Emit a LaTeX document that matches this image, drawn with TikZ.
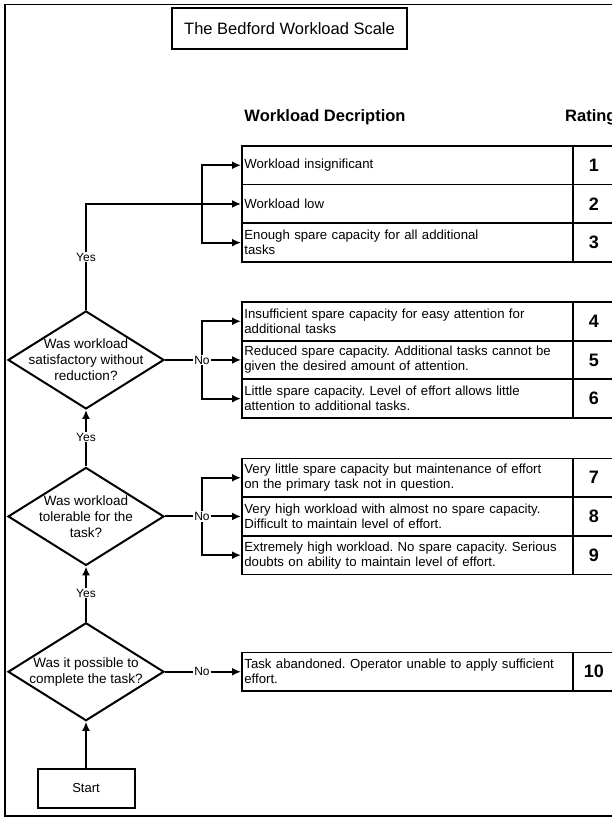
\documentclass[tikz,border=0pt]{standalone}
\usepackage{fontspec}
\setmainfont{Liberation Sans}
\frenchspacing
\usetikzlibrary{shapes}
\usetikzlibrary{arrows.meta}
\usetikzlibrary{positioning}
\tikzset{
  desc/.style={draw, line width=1.8pt, rectangle, minimum width=331pt,
    minimum height=38.7pt, text width=326pt, inner xsep=2.5pt, inner ysep=0pt,
    align=left, anchor=north west, font=\fontsize{13.2}{15}\selectfont},
  rate/.style={draw, line width=1.8pt, minimum width=42pt, minimum height=38.7pt,
    inner sep=0pt, anchor=north west, font=\bfseries\fontsize{18}{18}\selectfont},
  decision/.style={diamond, draw, line width=2pt, minimum width=156pt,
    minimum height=98pt, inner sep=0pt},
  question/.style={align=center, font=\fontsize{13.5}{16}\selectfont},
  flow/.style={line width=2pt, -{Latex[length=9pt,width=8pt]}},
  yn/.style={fill=white, inner sep=1pt, font=\fontsize{12}{12}\selectfont},
}

\begin{document}
\begin{tikzpicture}[x=1pt,y=-1pt]

  \useasboundingbox (0,0) rectangle (611,818);
  \draw[line width=1.4pt] (5,4.5) rectangle (650,816);

  % title and column heads
  \node[draw, line width=2.8pt, minimum width=235pt, minimum height=41pt,
    font=\fontsize{16.5}{16.5}\selectfont] (title) at (289.5,28.5) {The Bedford Workload Scale};
  \node[font=\bfseries\fontsize{16.5}{16.5}\selectfont] (hdesc) at (325,117) {Workload Decription};
  \node[anchor=west, inner sep=0pt, font=\bfseries\fontsize{16.5}{16.5}\selectfont] (hrate) at (565,117) {Rating};

  % one row of the scale: number, top, description
  \newcommand\ratingrow[3]{
    \node[desc] (r#1) at (241,#2) {#3};
    \node[rate] (n#1) at (572,#2) {#1};
  }

  \ratingrow{1}{145}{Workload insignificant}
  \ratingrow{2}{183.7}{Workload low}
  \ratingrow{3}{222.4}{Enough spare capacity for all additional\\tasks}
  \ratingrow{4}{301}{Insufficient spare capacity for easy attention for\\additional tasks}
  \ratingrow{5}{339.7}{Reduced spare capacity. Additional tasks cannot be\\given the desired amount of attention.}
  \ratingrow{6}{378.4}{Little spare capacity. Level of effort allows little\\attention to additional tasks.}
  \ratingrow{7}{457.5}{Very little spare capacity but maintenance of effort\\on the primary task not in question.}
  \ratingrow{8}{496.2}{Very high workload with almost no spare capacity.\\Difficult to maintain level of effort.}
  \ratingrow{9}{534.9}{Extremely high workload. No spare capacity. Serious\\doubts on ability to maintain level of effort.}
  \ratingrow{10}{651.5}{Task abandoned. Operator unable to apply sufficient\\effort.}

  % decisions
  \node[decision] (d1) at (86,0 |- r5.west) {};
  \node[decision] (d2) at (86,0 |- r8.west) {};
  \node[decision] (d3) at (86,0 |- r10.west) {};
  \node[question] (q1) at (d1) {Was workload\\satisfactory without\\reduction?};
  \node[question] (q2) at (d2) {Was workload\\tolerable for the\\task?};
  \node[question] (q3) at (d3) {Was it possible to\\complete the task?};
  \node[draw, line width=2pt, minimum width=97pt, minimum height=39pt,
    font=\fontsize{13}{13}\selectfont] (start) at (86,788) {Start};

  % yes path
  \draw[flow] (start.north) -- (d3.south);
  \draw[flow] (d3.north) -- (d2.south);
  \draw[flow] (d2.north) -- (d1.south);
  \draw[flow] (d1.north) |- (r2.west);
  \coordinate (b1) at (202,0 |- r2.west);
  \draw[flow] (b1) |- (r1.west);
  \draw[flow] (b1) |- (r3.west);

  % no paths
  \draw[flow] (d1.east) -- (r5.west);
  \coordinate (b2) at (202,0 |- r5.west);
  \draw[flow] (b2) |- (r4.west);
  \draw[flow] (b2) |- (r6.west);
  \draw[flow] (d2.east) -- (r8.west);
  \coordinate (b3) at (202,0 |- r8.west);
  \draw[flow] (b3) |- (r7.west);
  \draw[flow] (b3) |- (r9.west);
  \draw[flow] (d3.east) -- (r10.west);
  \coordinate (b4) at (202,0 |- r10.west);

  \node[yn] (yes1) at (86,257) {Yes};
  \node[yn] (yes2) at (86,437) {Yes};
  \node[yn] (yes3) at (86,593) {Yes};
  \node[yn] (no1) at (b2) {No};
  \node[yn] (no2) at (b3) {No};
  \node[yn] (no3) at (b4) {No};

\end{tikzpicture}
\end{document}
